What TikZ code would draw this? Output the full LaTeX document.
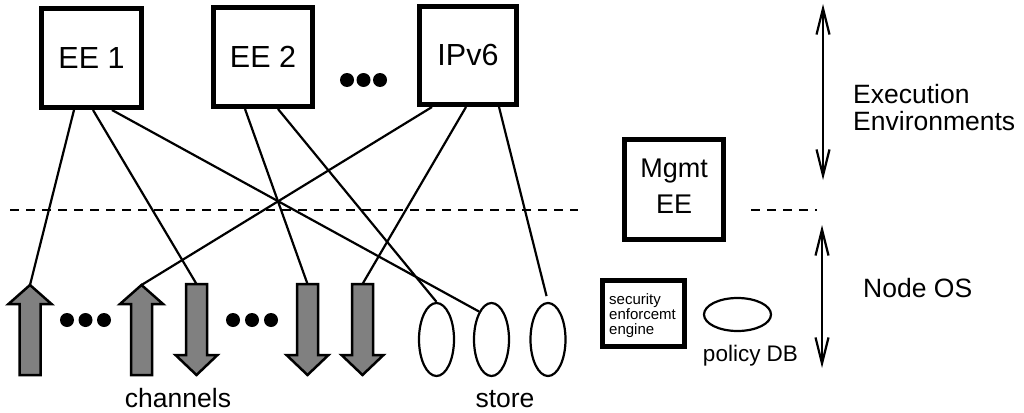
\documentclass[tikz,border=0pt]{standalone}
\usepackage{fontspec}
\setmainfont{Liberation Sans}
\usetikzlibrary{arrows.meta,shapes.geometric}
\definecolor{chgray}{HTML}{808080}
\tikzset{
  eebox/.style={draw, line width=5pt, inner sep=0pt, font=\fontsize{30.5}{32}\selectfont},
  link/.style={line width=2.2pt},
  chan/.style={draw, fill=chgray, line width=2.5pt, line join=miter},
  storeell/.style={draw, ellipse, line width=2.2pt, inner sep=0pt, minimum width=35pt, minimum height=73pt},
  bigdot/.style={circle, fill=black, inner sep=0pt, minimum size=14pt},
  lbl/.style={font=\fontsize{26.5}{27}\selectfont, inner sep=0pt},
  span/.style={line width=2.2pt, {Straight Barb[length=26pt,width=13pt]}-{Straight Barb[length=26pt,width=13pt]}},
  layer/.style={line width=2.2pt, dash pattern=on 9pt off 7pt}
}
\newcommand\upchan[2]{%
  \draw[chan] ({#2-10.5},375) -- ({#2-10.5},304) -- ({#2-21.5},304) -- (#2,285) -- ({#2+21.5},304) -- ({#2+10.5},304) -- ({#2+10.5},375) -- cycle;
  \coordinate (#1) at (#2,285);}
\newcommand\downchan[2]{%
  \draw[chan] ({#2-10.5},284) -- ({#2-10.5},355) -- ({#2-21},355) -- (#2,375) -- ({#2+21},355) -- ({#2+10.5},355) -- ({#2+10.5},284) -- cycle;
  \coordinate (#1) at (#2,284);}
\begin{document}
\begin{tikzpicture}[x=1pt,y=-1pt]
\useasboundingbox (0,0) rectangle (1024,412);
% EE boxes
\node[eebox, minimum width=100pt, minimum height=99pt] (ee1) at (91.5,58) {EE 1};
\node[eebox, minimum width=99pt, minimum height=99pt] (ee2) at (263,57) {EE 2};
\node[eebox, minimum width=97pt, minimum height=98pt] (ipv6) at (468,55.5) {IPv6};
\node[bigdot] (t1) at (347,80) {};
\node[bigdot] (t2) at (363.5,80) {};
\node[bigdot] (t3) at (380,80) {};
% Mgmt EE
\node[eebox, minimum width=99pt, minimum height=100pt] (mgmt) at (674,189.5) {};
\node[anchor=base, align=center, inner sep=0pt, font=\fontsize{27}{35.5}\selectfont] (mgmtl) at (674,213) {Mgmt\\EE};
% dashed layer line
\coordinate (la) at (10,210);
\coordinate (lb) at (578,210);
\coordinate (lc) at (751,210);
\coordinate (ld) at (817,210);
\draw[layer] (la) -- (lb);
\draw[layer] (lc) -- (ld);
% channels
\upchan{u1}{30}
\upchan{u2}{141.5}
\downchan{w1}{196.5}
\downchan{w2}{307.5}
\downchan{w3}{362.5}
\node[bigdot] (b1) at (67,320) {};
\node[bigdot] (b2) at (85.5,320) {};
\node[bigdot] (b3) at (104,320) {};
\node[bigdot] (b4) at (233,320) {};
\node[bigdot] (b5) at (252,320) {};
\node[bigdot] (b6) at (271,320) {};
% store
\node[storeell] (s1) at (436.5,339.5) {};
\node[storeell] (s2) at (491.5,339.5) {};
\node[storeell] (s3) at (548,339.5) {};
% connectors
\draw[link] ([xshift=-17.5pt]ee1.south) -- (u1);
\draw[link] ([xshift=1.5pt]ee1.south) -- (w1);
\draw[link] ([xshift=20.5pt]ee1.south) -- (s2.114);
\draw[link] ([xshift=-18pt]ee2.south) -- (w2);
\draw[link] ([xshift=15pt]ee2.south) -- (s1.north);
\draw[link] ([xshift=-36pt]ipv6.south) -- (u2);
\draw[link] ([xshift=-2pt]ipv6.south) -- (w3);
\draw[link, shorten >=6pt] ([xshift=31pt]ipv6.south) -- (s3.north);
% security engine and policy DB
\node[draw, line width=5pt, minimum width=82pt, minimum height=66pt, inner sep=0pt] (sec) at (643.5,313.5) {};
\node[anchor=base west, align=left, inner sep=0pt, font=\fontsize{15}{15}\selectfont] (sect) at (609,334) {security\\enforcemt\\engine};
\node[draw, ellipse, line width=2.2pt, minimum width=67pt, minimum height=33pt, inner sep=0pt] (pdb) at (737.5,314.5) {};
\node[anchor=base, inner sep=0pt, font=\fontsize{22.5}{24}\selectfont] (pdbl) at (750.5,361) {policy DB};
% labels
\node[lbl, anchor=base] (chl) at (178,407) {channels};
\node[lbl, anchor=base] (stl) at (505,407) {store};
% right side spans
\coordinate (a1) at (823,4);
\coordinate (a2) at (823,180);
\coordinate (a3) at (822,225);
\coordinate (a4) at (822,368);
\draw[span] (a1) -- (a2);
\draw[span] (a3) -- (a4);
\node[lbl, anchor=base west, align=left] (exl) at (853,130) {Execution\\Environments};
\node[lbl, anchor=base west] (nosl) at (863,297) {Node OS};
\end{tikzpicture}
\end{document}
